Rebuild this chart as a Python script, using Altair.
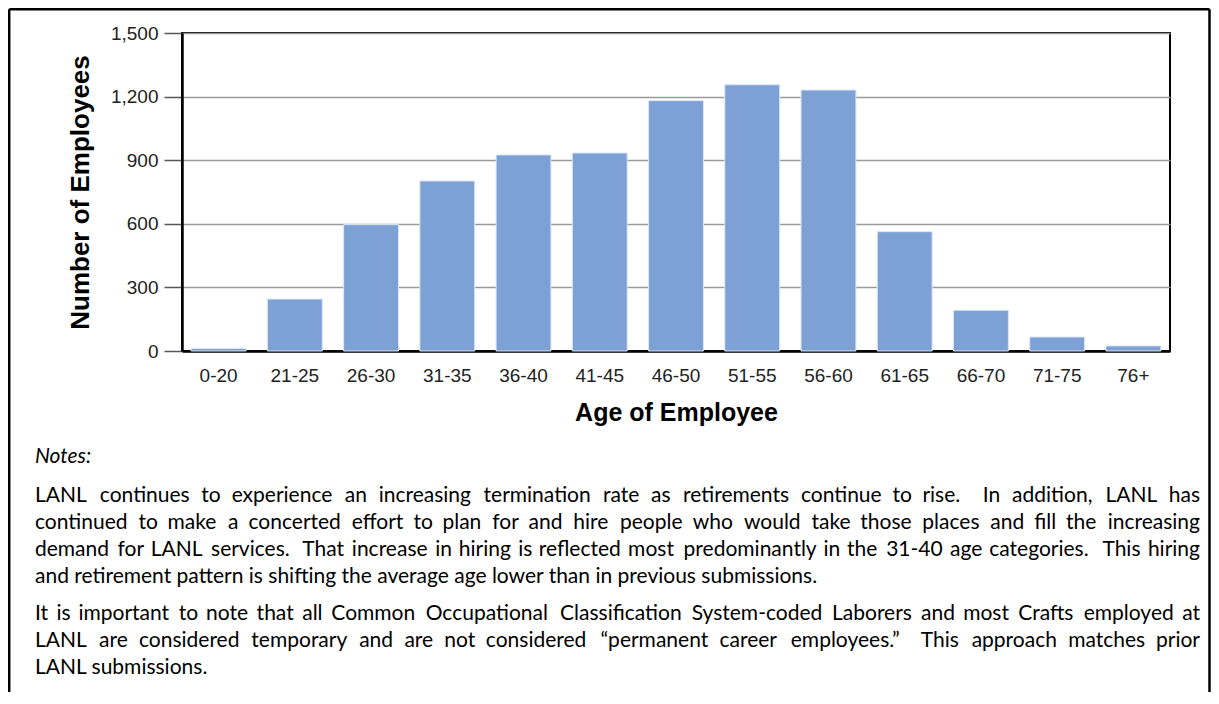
import altair as alt
import pandas as pd

ages = ["0-20", "21-25", "26-30", "31-35", "36-40", "41-45", "46-50",
        "51-55", "56-60", "61-65", "66-70", "71-75", "76+"]
counts = [12, 245, 596, 802, 925, 934, 1181, 1256, 1231, 563, 192, 66, 24]
y_ticks = [0, 300, 600, 900, 1200, 1500]

notes_label = "Notes:"
notes_lines = [
    "LANL continues to experience an increasing termination rate as retirements continue to rise.  In addition, LANL has",
    "continued to make a concerted effort to plan for and hire people who would take those places and fill the increasing",
    "demand for LANL services.  That increase in hiring is reflected most predominantly in the 31-40 age categories.  This hiring",
    "and retirement pattern is shifting the average age lower than in previous submissions.",
    "It is important to note that all Common Occupational Classification System-coded Laborers and most Crafts employed at",
    "LANL are considered temporary and are not considered \u201cpermanent career employees.\u201d  This approach matches prior",
    "LANL submissions.",
]
notes_justified = [True, True, True, False, True, True, False]

df = pd.DataFrame({"age": ages, "count": counts})

W, H = 988, 318
PAD_L, PAD_T, PAD_R, PAD_B = 174, 25, 41, 341
OX, OY = 182, 33  # page position of plot origin

# ---- layout of the justified notes text (approximate glyph widths, em) ----
NOTE_FONT = "Lato"
NOTE_SIZE = 21
_w = {" ": .193, ".": .2, ",": .2, "-": .33, "\u201c": .35, "\u201d": .35,
      "i": .229, "l": .229, "j": .229, "f": .312, "t": .33, "r": .345,
      "a": .49, "c": .45, "e": .5, "s": .4, "z": .44, "k": .49, "v": .49,
      "x": .48, "y": .49, "g": .5, "b": .545, "d": .545, "h": .54, "n": .54,
      "o": .54, "p": .545, "q": .545, "u": .54, "m": .8, "w": .75,
      "I": .275, "L": .5, "A": .68, "N": .74, "C": .66, "O": .78, "S": .53,
      "T": .58, "P": .58, "E": .55}


def tw(s):
    return sum(_w.get(ch, .58) for ch in s) * NOTE_SIZE * 1.06


X0, X1 = 35, 1200
line_y = [496, 523, 550, 577, 614, 641, 668]
rows = []
for line, just, yy in zip(notes_lines, notes_justified, line_y):
    if not just:
        rows.append({"t": line, "px": X0 - OX, "py": yy - OY, "al": "left"})
        continue
    toks = line.split(" ")
    words, gaps_before = [], []
    g = 0
    for tk in toks:
        if tk == "":
            g += 1
            continue
        gaps_before.append(g if words else 0)
        words.append(tk)
        g = 1
    widths = [tw(wd) for wd in words]
    ngaps = sum(gaps_before)
    slack = (X1 - X0 - sum(widths)) / ngaps
    n = len(words)
    for i, wd in enumerate(words):
        if i < n / 2:
            x = X0 + sum(widths[:i]) + sum(gaps_before[:i + 1]) * slack
            rows.append({"t": wd, "px": x - OX, "py": yy - OY, "al": "left"})
        else:
            x = X1 - sum(widths[i + 1:]) - sum(gaps_before[i + 1:]) * slack
            rows.append({"t": wd, "px": x - OX, "py": yy - OY, "al": "right"})
words_df = pd.DataFrame(rows)

bars = alt.Chart(df).mark_bar(
    color="#7EA1D5", stroke="#DCE6F5", strokeWidth=1
).encode(
    x=alt.X("age:N", sort=ages,
            scale=alt.Scale(paddingInner=0.28, paddingOuter=0.12),
            axis=alt.Axis(title="Age of Employee", labelAngle=0, ticks=False, tickSize=0,
                          labelPadding=15, titlePadding=15, titleFontSize=25,
                          domainColor="#000000", domainWidth=2.5)),
    y=alt.Y("count:Q", scale=alt.Scale(domain=[0, 1500], nice=False),
            axis=alt.Axis(title="Number of Employees", values=y_ticks, format=",d",
                          tickSize=18, tickColor="#555555", tickWidth=1.5,
                          labelPadding=6, titlePadding=17, titleFontSize=26,
                          grid=True, gridColor="#9A9A9A", gridWidth=1.6,
                          domainColor="#000000", domainWidth=2.5)),
)

one = pd.DataFrame({"k": [0]})
layers = [bars]

# outer frame (left, top, right)
frame_l, frame_t, frame_r, frame_b = -172.8, -23.8, 1027.5, H + PAD_B + 5
layers.append(alt.Chart(one).mark_rule(color="#000000", strokeWidth=2.5).encode(
    x=alt.value(frame_l), y=alt.value(frame_t), y2=alt.value(frame_b)))
layers.append(alt.Chart(one).mark_rule(color="#000000", strokeWidth=2.5).encode(
    x=alt.value(frame_l), x2=alt.value(frame_r), y=alt.value(frame_t)))
layers.append(alt.Chart(one).mark_rule(color="#000000", strokeWidth=2.5).encode(
    x=alt.value(frame_r), y=alt.value(frame_t), y2=alt.value(frame_b)))

layers.append(alt.Chart(one).mark_text(
    text=notes_label, font=NOTE_FONT, fontSize=NOTE_SIZE, fontStyle="italic",
    align="left", baseline="middle", color="#000000"
).encode(x=alt.value(X0 - OX), y=alt.value(457 - OY)))

for al in ["left", "right"]:
    layers.append(alt.Chart(words_df[words_df["al"] == al]).mark_text(
        font=NOTE_FONT, fontSize=NOTE_SIZE, align=al, baseline="middle", color="#000000"
    ).encode(
        x=alt.X("px:Q", scale=None, axis=None),
        y=alt.Y("py:Q", scale=None, axis=None),
        text="t:N",
    ))

chart = alt.layer(*layers).properties(
    width=W, height=H,
    autosize=alt.AutoSizeParams(type="none"),
    padding={"left": PAD_L, "top": PAD_T, "right": PAD_R, "bottom": PAD_B},
    background="#FFFFFF",
).resolve_scale(
    x="independent", y="independent"
).configure_view(
    stroke="#000000", strokeWidth=2
).configure_axis(
    labelFont="Liberation Sans", labelFontSize=19, labelColor="#222222",
    titleFont="Liberation Sans", titleFontWeight="bold",
    titleColor="#000000",
)

chart.save("out.html", embed_options={"renderer": "svg", "actions": False})
